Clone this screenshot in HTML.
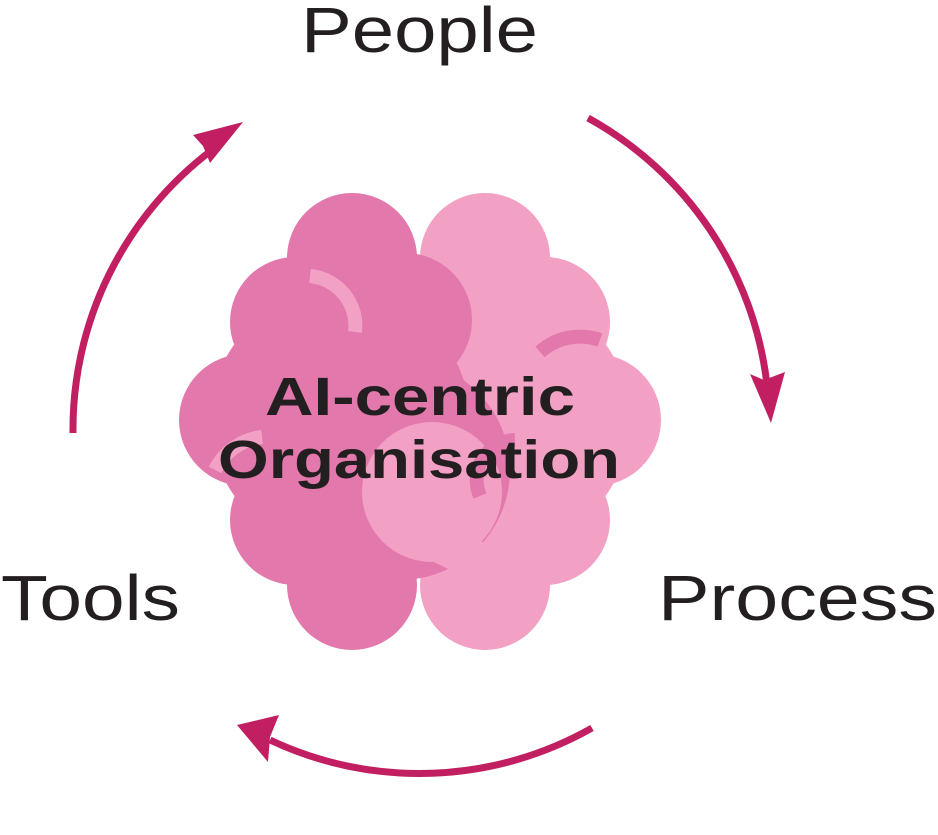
<!DOCTYPE html>
<html><head><style>
html,body{margin:0;padding:0;background:#fff;width:938px;height:835px;overflow:hidden}
svg{display:block}
</style></head><body>
<svg width="938" height="835" viewBox="0 0 938 835" xmlns="http://www.w3.org/2000/svg">
<g fill="none" stroke="#c11f62" stroke-width="7">
<path d="M73,433 A350,350 0 0 1 212,150"/>
<path d="M588,118 A350,350 0 0 1 767,385"/>
<path d="M592,728 A350,350 0 0 1 270,740"/>
</g>
<g fill="#c11f62">
<polygon points="243,122 193,135 203,146 210,163"/>
<polygon points="771,423 750,374 764,380 785,372"/>
<polygon points="237,725 279,715 270,737 268,762"/>
</g>
<g fill="#f2a1c4">
<circle cx="485" cy="258" r="65"/>
<circle cx="545" cy="322" r="65"/>
<circle cx="595" cy="420" r="66"/>
<circle cx="545" cy="520" r="65"/>
<circle cx="485" cy="585" r="65"/>
<circle cx="500" cy="420" r="130"/>
</g>
<g fill="#e278ab">
<circle cx="352" cy="258" r="65"/>
<circle cx="295" cy="322" r="65"/>
<circle cx="405" cy="320" r="67"/>
<circle cx="245" cy="420" r="66"/>
<circle cx="295" cy="520" r="65"/>
<circle cx="352" cy="585" r="65"/>
<circle cx="340" cy="420" r="130"/>
<circle cx="400" cy="470" r="110"/>
</g>
<circle cx="432" cy="492" r="70" fill="#f2a1c4"/>
<path d="M455,520 L495,552 A120 120 0 0 1 470,580 L430,560Z" fill="#f2a1c4"/>
<g fill="none" stroke-width="14">
<path d="M310,276 A50 50 0 0 1 355,332" stroke="#f2a1c4"/>
<path d="M540,352 A60 60 0 0 1 600,340" stroke="#e278ab"/>
<path d="M480,496 A40 40 0 0 1 515,440" stroke="#e278ab"/>
<path d="M215,470 A60 60 0 0 1 262,437" stroke="#f2a1c4"/>
</g>
<g font-family="Liberation Sans, sans-serif" fill="#231f20">
<text x="265" y="415" font-size="54" font-weight="bold" textLength="310" lengthAdjust="spacingAndGlyphs">AI-centric</text>
<text x="218" y="478" font-size="54" font-weight="bold" textLength="402" lengthAdjust="spacingAndGlyphs">Organisation</text>
<text x="301" y="52" font-size="64" textLength="237" lengthAdjust="spacingAndGlyphs">People</text>
<text x="1" y="620" font-size="64" textLength="179" lengthAdjust="spacingAndGlyphs">Tools</text>
<text x="658" y="620" font-size="64" textLength="279" lengthAdjust="spacingAndGlyphs">Process</text>
</g>
</svg>
</body></html>
